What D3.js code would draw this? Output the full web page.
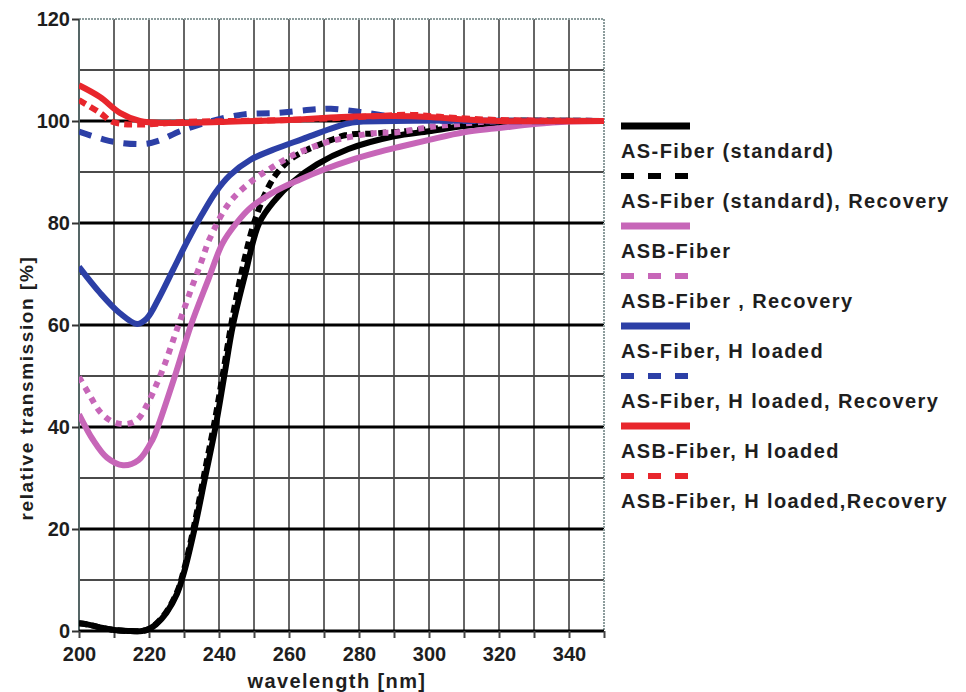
<!DOCTYPE html>
<html>
<head>
<meta charset="utf-8">
<script src="https://cdn.jsdelivr.net/npm/d3@7"></script>
<style>
  html, body { margin: 0; padding: 0; background: #fff; }
  svg { display: block; }
  text { font-family: "Liberation Sans", Arial, sans-serif; font-weight: bold; fill: #1e1e1e; }
</style>
</head>
<body>
<svg id="chart" width="966" height="692"></svg>
<script>
// ---- data (wavelength nm, relative transmission %) ----
const asStd = [[200,1.5],[203,1.2],[206,0.7],[210,0.2],[214,0],[218,0],[220,0.4],[222,1.3],[225,3.6],[228,7.3],[230,11.5],[233,20],[236,30],[239,40],[241.5,50],[244,60],[247.5,70],[251.5,80],[256,84.5],[261,88],[268,91.5],[277,94.5],[290,97],[300,98],[310,99],[320,99.7],[330,100],[350,100]];
const asStdRec = [[200,1.5],[203,1.2],[206,0.7],[210,0.2],[214,0],[218,0],[220,0.4],[222,1.4],[225,3.8],[228,7.6],[230,12],[233,21],[236,31.5],[239,42],[241.5,52],[244,62],[247,72],[250,80],[253.7,86.5],[256.6,89.8],[260.3,92.4],[265,94.3],[270,95.7],[276,97.2],[285,97.6],[297,98.2],[305,98.8],[313,99.6],[320,100],[350,100]];
const asb = [[200,42.5],[204,37.5],[208,34],[212.6,32.5],[217,33.5],[221,37.5],[222.5,40],[227.4,50],[232,60],[237,69],[241,76],[245,80],[249,83],[256,86.2],[263,88.5],[270,90.5],[277,92.2],[285,93.8],[292,95],[300,96.3],[310,97.8],[320,98.6],[330,99.4],[340,99.9],[350,100]];
const asbRec = [[200,49.8],[203,46.3],[206,43],[209.7,41],[213.7,40.6],[216.6,41.4],[219.4,44.3],[222.3,48.6],[224.6,52.5],[226.9,57],[229.7,62.5],[232.3,67.5],[235,72.5],[237.4,77],[243,84],[249.7,88.4],[255.4,91],[260.3,93],[266,94.7],[271.7,96],[284,97.6],[291,97.8],[300,98.8],[310,99.5],[320,100],[350,100]];
const asH = [[200,71.4],[206,66.3],[211.7,62.3],[216.6,60.2],[219.4,61.3],[223,65.5],[227,71],[231,76.5],[235,81.5],[239,86],[243,89.3],[249,92.4],[256,94.5],[264,96.5],[272,98.5],[278,99.7],[290,100],[350,100]];
const asHRec = [[200,97.9],[206,96.6],[210,95.9],[218.6,95.5],[223,96.2],[228.9,98],[237.4,99.9],[247,101.3],[256.6,101.6],[266,102.2],[272,102.4],[280,101.8],[290,100.8],[300,100.2],[310,100],[350,100]];
const asbH = [[200,107],[206,104.7],[211.7,101.6],[217.4,100],[225,99.6],[240,99.8],[260,100.2],[275,100.8],[290,101],[300,100.8],[310,100.3],[320,100],[350,100]];
const asbHRec = [[200,104.1],[206,101.6],[209.7,99.8],[217.4,99.3],[230,99.8],[260,100.2],[280,100.8],[295,101.2],[305,100.7],[320,100.2],[350,100]];

const seriesNames = ["AS-Fiber (standard)","AS-Fiber (standard), Recovery","ASB-Fiber","ASB-Fiber , Recovery","AS-Fiber, H loaded","AS-Fiber, H loaded, Recovery","ASB-Fiber, H loaded","ASB-Fiber, H loaded,Recovery"];
const seriesData = [asStd, asStdRec, asb, asbRec, asH, asHRec, asbH, asbHRec];
const seriesColors = ["#000000","#000000","#c766b8","#c766b8","#2c3fa6","#2c3fa6","#e8262c","#e8262c"];
const seriesDashed = [false,true,false,true,false,true,false,true];

const xTicks = [200,220,240,260,280,300,320,340];
const yTicks = [0,20,40,60,80,100,120];

// ---- layout ----
const svg = d3.select("#chart");
const x = d3.scaleLinear().domain([200,350]).range([79,604]);
const y = d3.scaleLinear().domain([0,120]).range([631,19]);

const g = svg.append("g");

// vertical grid (every 10 nm)
g.selectAll("line.vg").data(d3.range(210,350,10)).enter().append("line")
  .attr("x1", d => x(d)).attr("x2", d => x(d)).attr("y1", y(120)).attr("y2", y(0))
  .attr("stroke", "#666").attr("stroke-width", 2);

// horizontal grid
g.selectAll("line.hg").data(d3.range(10,120,10)).enter().append("line")
  .attr("x1", x(200)).attr("x2", x(350)).attr("y1", d => y(d)).attr("y2", d => y(d))
  .attr("stroke", d => d % 20 === 0 ? "#000" : "#4a4a4a")
  .attr("stroke-width", d => d % 20 === 0 ? 3 : 2);

// border
g.append("line").attr("x1", x(200)).attr("x2", x(350)).attr("y1", y(120)).attr("y2", y(120))
  .attr("stroke", "#8c9c9c").attr("stroke-width", 2).attr("stroke-dasharray","2,1");
g.append("line").attr("x1", x(350)).attr("x2", x(350)).attr("y1", y(120)).attr("y2", y(0))
  .attr("stroke", "#8c9c9c").attr("stroke-width", 2).attr("stroke-dasharray","2,1");
g.append("line").attr("x1", x(200)).attr("x2", x(200)).attr("y1", y(120)).attr("y2", y(0))
  .attr("stroke", "#556666").attr("stroke-width", 2);
g.append("line").attr("x1", x(200)).attr("x2", x(350)).attr("y1", y(0)).attr("y2", y(0))
  .attr("stroke", "#000").attr("stroke-width", 3);

// axes
const xAxis = d3.axisBottom(x).tickValues(d3.range(200,351,10)).tickSize(7)
  .tickFormat(d => xTicks.includes(d) ? d : "");
const xa = svg.append("g").attr("transform", `translate(0,${y(0)})`).call(xAxis);
xa.select(".domain").remove();
xa.selectAll(".tick line").attr("stroke", "#444").attr("stroke-width", 2);
xa.selectAll(".tick text").attr("font-size", 20).attr("dy", "1em").attr("fill", "#1e1e1e")
  .style("font-family", "Liberation Sans, Arial, sans-serif").style("font-weight","bold");

const yAxis = d3.axisLeft(y).tickValues(yTicks).tickSize(7).tickPadding(2);
const ya = svg.append("g").attr("transform", `translate(${x(200)},0)`).call(yAxis);
ya.select(".domain").remove();
ya.selectAll(".tick line").attr("stroke", "#333").attr("stroke-width", 2);
ya.selectAll(".tick text").attr("font-size", 20).attr("fill", "#1e1e1e")
  .style("font-family", "Liberation Sans, Arial, sans-serif").style("font-weight","bold");

// axis titles
svg.append("text").attr("x", 337).attr("y", 688).attr("text-anchor","middle")
  .attr("font-size", 20).attr("letter-spacing", 1.4).text("wavelength [nm]");
svg.append("text").attr("transform", "translate(33,388) rotate(-90)").attr("text-anchor","middle")
  .attr("font-size", 19).attr("letter-spacing", 1.6).text("relative transmission [%]");

// curves
const line = d3.line().x(d => x(d[0])).y(d => y(d[1])).curve(d3.curveCatmullRom.alpha(0.5));
const dashes = ["8,5","8,5","6,6","6,6","13,10","13,10","8,5","8,5"];
svg.append("clipPath").attr("id","clip").append("rect")
  .attr("x", x(200)).attr("y", y(120)).attr("width", x(350)-x(200)).attr("height", y(0)-y(120)+4);
const curves = svg.append("g").attr("clip-path","url(#clip)");
seriesData.forEach((s, i) => {
  curves.append("path").datum(s).attr("d", line)
    .attr("fill","none").attr("stroke", seriesColors[i])
    .attr("stroke-width", 6).attr("stroke-linejoin","round")
    .attr("stroke-dasharray", seriesDashed[i] ? dashes[i] : null);
});

// legend
const leg = svg.append("g");
seriesNames.forEach((n, i) => {
  const sy = 126 + i * 50;
  leg.append("line").attr("x1", 621).attr("x2", 690).attr("y1", sy).attr("y2", sy)
    .attr("stroke", seriesColors[i]).attr("stroke-width", seriesDashed[i] ? 6 : 7)
    .attr("stroke-dasharray", seriesDashed[i] ? "13,14" : null);
  leg.append("text").attr("x", 621).attr("y", sy + 32).attr("font-size", 20)
    .attr("letter-spacing", 1.4).text(n);
});
</script>
</body>
</html>
